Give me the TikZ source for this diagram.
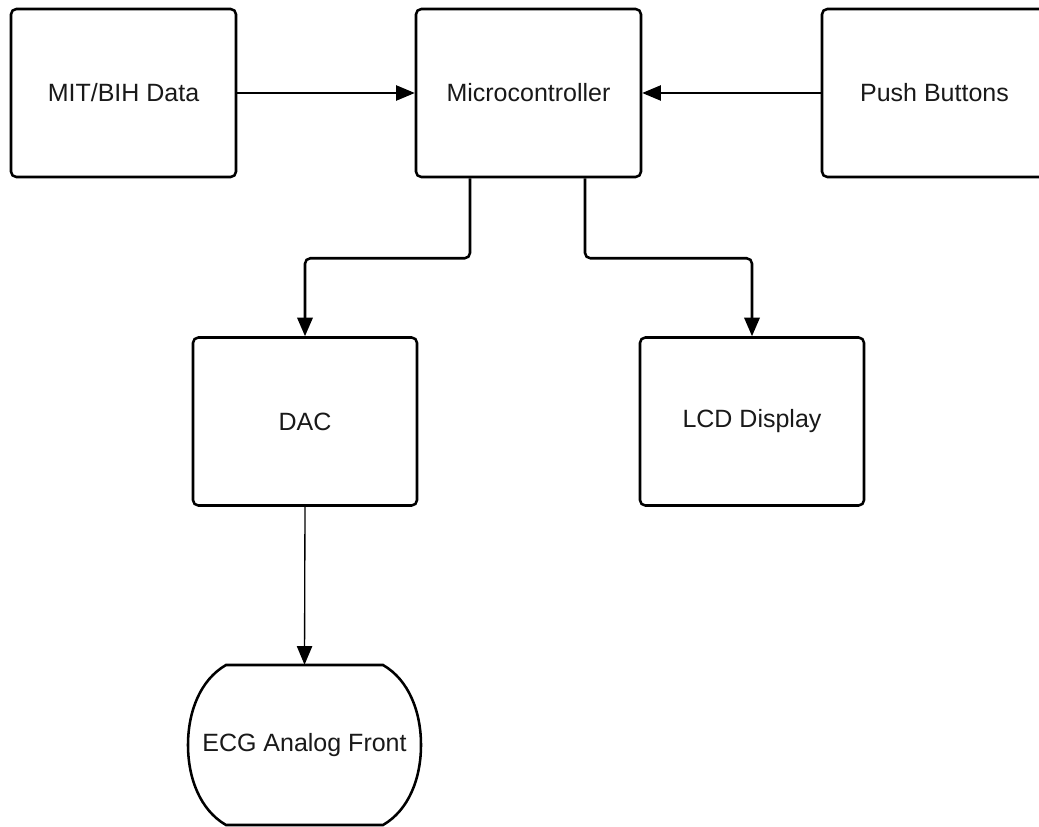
\documentclass[tikz,border=0pt]{standalone}
\usepackage{fontspec}
\setmainfont{Liberation Sans}
\usetikzlibrary{arrows.meta,calc}

\tikzset{
  block/.style={draw=black, line width=1.9pt, rounded corners=4pt, fill=white,
    minimum width=#1*0.75pt, minimum height=168*0.75pt, inner sep=0pt,
    font=\fontsize{18.75pt}{22pt}\selectfont, text=black!90},
  block/.default=225,
  label only/.style={inner sep=0pt, font=\fontsize{18.75pt}{22pt}\selectfont, text=black!90,
    minimum width=233*0.75pt, minimum height=160*0.75pt},
  link/.style={line width=1pt, -{Triangle[length=14pt, width=11.5pt]}},
  bus/.style={line width=1.9pt, rounded corners=4pt, -{Triangle[length=14pt, width=11.5pt]}},
}

\begin{document}
\begin{tikzpicture}[x=0.75pt, y=-0.75pt]
  \useasboundingbox (0,0) rectangle (1039,827);
  \clip (0,0) rectangle (1039,827);

  % blocks of the top row
  \node[block] (mit) at (123.5,93) {MIT/BIH Data};
  \node[block] (mc)  at (528.5,93) {Microcontroller};
  \node[block] (pb)  at (934.5,93) {Push Buttons};

  % output stages
  \node[block=224] (dac) at (305,421.5) {DAC};
  \node[block=224] (lcd) at (752,421.5) {LCD Display};

  % analog front end: flat top and bottom, bulging sides
  \draw[line width=1.9pt, fill=white]
    (226,665) -- (383,665)
    .. controls (409,680) and (421,712) .. (421,745)
    .. controls (421,778) and (409,810) .. (383,825)
    -- (226,825)
    .. controls (200,810) and (188,778) .. (188,745)
    .. controls (188,712) and (200,680) .. (226,665) -- cycle;
  \node[label only] (ecg) at (304.5,745) {ECG Analog Front};

  % inputs to the microcontroller
  \draw[link] (mit.east) -- (mc.west);
  \draw[link] (pb.west) -- (mc.east);

  % microcontroller outputs
  \draw[bus] ($(mc.south)+(-58.5,0)$) -- ++(0,80) -| (dac.north);
  \draw[bus] ($(mc.south)+(56.5,0)$) -- ++(0,80) -| (lcd.north);

  % DAC feeds the analog front end
  \draw[link] (dac.south) -- (ecg.north);
\end{tikzpicture}
\end{document}
